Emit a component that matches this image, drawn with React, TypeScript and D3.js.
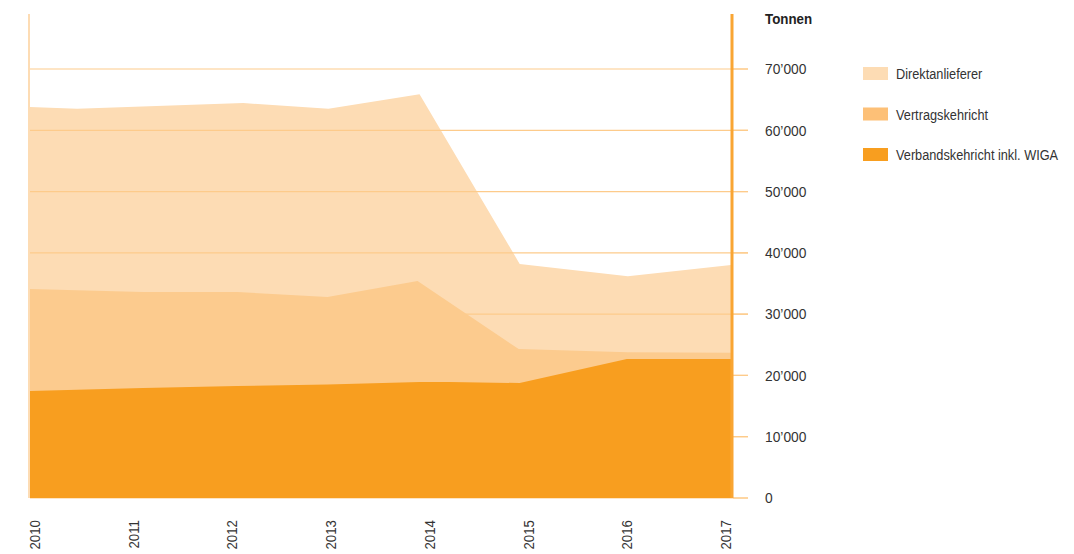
import React from 'react'
import * as d3 from 'd3'

// stacked boundaries (tonnes); x given as fractional year
const years = [2010, 2011, 2012, 2013, 2014, 2015, 2016, 2017]
const yTicks = [0, 10000, 20000, 30000, 40000, 50000, 60000, 70000]

const direktYears = [2010, 2010.47, 2012.13, 2012.98, 2013.89, 2014.89, 2015.97, 2017]
const direktTop = [63800, 63500, 64450, 63500, 65900, 38200, 36200, 38000]

const vertragYears = [2010, 2011.13, 2012.07, 2012.97, 2013.87, 2014.88, 2015.97, 2017]
const vertragTop = [34100, 33600, 33600, 32800, 35400, 24300, 23800, 23700]

const verbandYears = [2010, 2011.13, 2012.07, 2012.97, 2013.89, 2014.19, 2014.89, 2015.96, 2017]
const verbandTop = [17450, 17950, 18270, 18520, 18930, 18930, 18760, 22680, 22680]

const legendLabels = ['Direktanlieferer', 'Vertragskehricht', 'Verbandskehricht inkl. WIGA']
const areaColors = ['#fddcb4', '#fccb8e', '#f89e1f']
const swatchColors = ['#fddcb4', '#fdc077', '#f89e1f']

const font = "'Liberation Sans', Arial, sans-serif"

export default function App() {
  const x = d3.scaleLinear().domain([2010, 2017]).range([30, 731])
  const y = d3.scaleLinear().domain([0, 70000]).range([498, 69])
  const xLabel = d3.scalePoint<number>().domain(years).range([40, 731])

  const area = d3.area<[number, number]>()
    .x(d => x(d[0]))
    .y0(y(0))
    .y1(d => y(d[1]))

  const series = [
    d3.zip(direktYears, direktTop),
    d3.zip(vertragYears, vertragTop),
    d3.zip(verbandYears, verbandTop),
  ] as [number, number][][]

  const fmt = (v: number) => v === 0 ? '0' : d3.format(',')(v).replace(',', '\u2019')

  return (
    <svg width={1074} height={554} style={{ position: 'absolute', left: 0, top: 0, background: '#fff' }}
      fontFamily={font}>
      <path d={area(series[0]) || ''} fill={areaColors[0]} />
      {yTicks.map(t => (
        <line key={t} x1={30} x2={748} y1={y(t)} y2={y(t)} stroke="#fdcb8b" strokeWidth={1.2} />
      ))}
      <path d={area(series[1]) || ''} fill={areaColors[1]} />
      <path d={area(series[2]) || ''} fill={areaColors[2]} />
      {yTicks.map(t => (
        <line key={'t' + t} x1={733} x2={748} y1={y(t)} y2={y(t)} stroke="#fdcb8b" strokeWidth={1.2} />
      ))}
      <line x1={29} x2={29} y1={14} y2={498} stroke="#fddcb4" strokeWidth={2} />
      <line x1={732} x2={732} y1={14} y2={498} stroke="#f9a533" strokeWidth={3} />

      {yTicks.map(t => (
        <text key={'l' + t} transform={`translate(765,${y(t)}) scale(0.92,1)`} dy="0.35em"
          fontSize={15} fill="#333">{fmt(t)}</text>
      ))}
      <text transform="translate(765,19) scale(0.89,1)" dy="0.35em" fontSize={15} fontWeight="bold"
        fill="#222">Tonnen</text>

      {years.map(yr => (
        <text key={yr} transform={`translate(${xLabel(yr)},520) rotate(-90) scale(0.95,1)`} textAnchor="end"
          fontSize={14} fill="#333">{yr}</text>
      ))}

      {legendLabels.map((lab, i) => (
        <g key={lab} transform={`translate(863,${67 + i * 40.5})`}>
          <rect width={25} height={13} fill={swatchColors[i]} />
          <text transform="translate(33,7) scale(0.85,1)" dy="0.35em" fontSize={15} fill="#333">{lab}</text>
        </g>
      ))}
    </svg>
  )
}
